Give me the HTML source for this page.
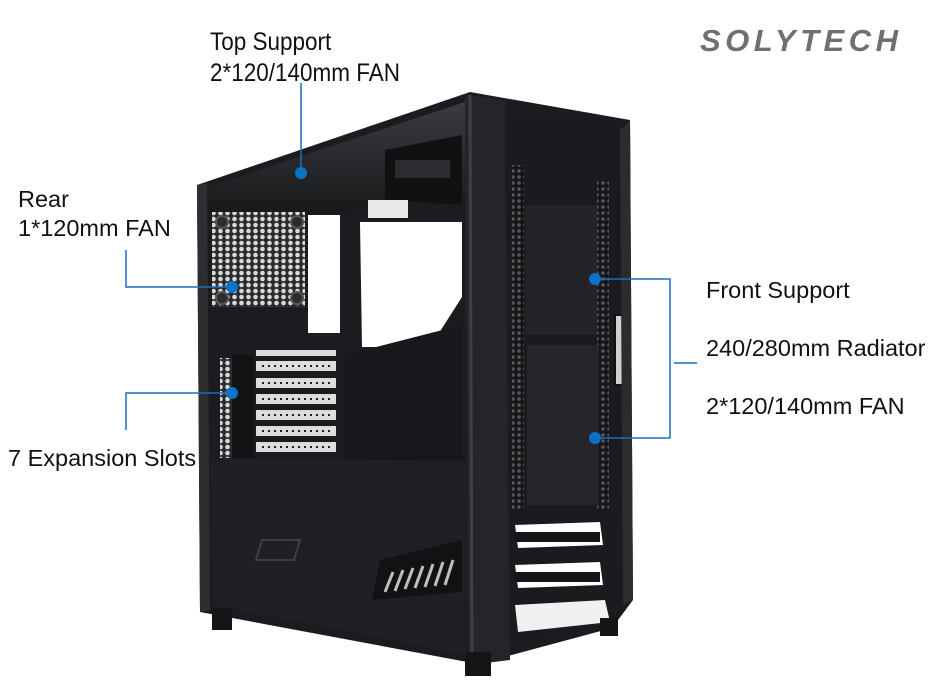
<!DOCTYPE html>
<html><head><meta charset="utf-8"><style>
html,body{margin:0;padding:0;background:#fff;}
svg{display:block}
text{font-family:"Liberation Sans",sans-serif;fill:#111;}
</style></head><body>
<svg width="942" height="698" viewBox="0 0 942 698" xmlns="http://www.w3.org/2000/svg">
<defs>
<pattern id="hex" width="7" height="6" patternUnits="userSpaceOnUse">
<rect width="7" height="6" fill="#2a2b2e"/>
<circle cx="3.5" cy="3" r="2.3" fill="#d8d8d8"/>
</pattern>
<pattern id="hexd" width="6" height="6" patternUnits="userSpaceOnUse">
<rect width="6" height="6" fill="#151618"/>
<circle cx="3" cy="3" r="1.8" fill="#55575c"/>
</pattern>
<linearGradient id="top" x1="0" y1="0" x2="0" y2="1">
<stop offset="0" stop-color="#3a3c40"/><stop offset="1" stop-color="#17181a"/>
</linearGradient>
</defs>

<polygon points="197,185 470,92 630,120 633,600 612,628 478,664 200,612" fill="#1b1c1f"/>
<polygon points="205,188 465,102 465,200 300,215 210,215" fill="url(#top)"/>
<polygon points="385,150 462,135 462,205 385,200" fill="#101113"/>
<rect x="395" y="160" width="55" height="18" fill="#2c2d30"/>
<polygon points="197,185 207,183 210,610 200,612" fill="#2d2e32"/>
<rect x="212" y="212" width="93" height="95" fill="url(#hex)"/>
<circle cx="222" cy="222" r="6" fill="#2a2b2e" stroke="#555" stroke-width="2"/>
<circle cx="297" cy="222" r="6" fill="#2a2b2e" stroke="#555" stroke-width="2"/>
<circle cx="222" cy="298" r="6" fill="#2a2b2e" stroke="#555" stroke-width="2"/>
<circle cx="297" cy="298" r="6" fill="#2a2b2e" stroke="#555" stroke-width="2"/>
<rect x="308" y="215" width="32" height="118" fill="#fff"/>
<polygon points="360,222 462,222 462,297 430,347 362,347" fill="#fff"/>
<rect x="368" y="200" width="40" height="18" fill="#e8e8e8"/>
<rect x="220" y="358" width="12" height="100" fill="url(#hex)"/>
<rect x="232" y="355" width="22" height="105" fill="#121315"/>
<g fill="#dcdcdc">
<rect x="256" y="350" width="80" height="6"/>
<rect x="256" y="361" width="80" height="10"/>
<rect x="256" y="378" width="80" height="10"/>
<rect x="256" y="394" width="80" height="10"/>
<rect x="256" y="410" width="80" height="10"/>
<rect x="256" y="426" width="80" height="10"/>
<rect x="256" y="442" width="80" height="10"/>
</g>
<g stroke="#1b1c1f" stroke-width="2" stroke-dasharray="2 4">
<line x1="262" y1="366" x2="334" y2="366"/><line x1="262" y1="383" x2="334" y2="383"/>
<line x1="262" y1="399" x2="334" y2="399"/><line x1="262" y1="415" x2="334" y2="415"/>
<line x1="262" y1="431" x2="334" y2="431"/><line x1="262" y1="447" x2="334" y2="447"/>
</g>
<polygon points="345,355 462,325 462,460 345,460" fill="#17181b"/>
<polygon points="210,458 466,462 466,655 212,605" fill="#1f2023"/>
<polygon points="262,540 300,540 294,560 256,560" fill="none" stroke="#3c3e42" stroke-width="2"/>
<polygon points="380,560 462,540 462,592 372,600" fill="#111214"/>
<g stroke="#bfbfbf" stroke-width="3">
<line x1="385" y1="592" x2="393" y2="572"/><line x1="395" y1="591" x2="403" y2="570"/>
<line x1="405" y1="589" x2="413" y2="568"/><line x1="415" y1="588" x2="423" y2="566"/>
<line x1="425" y1="587" x2="433" y2="564"/><line x1="435" y1="586" x2="443" y2="562"/>
<line x1="445" y1="585" x2="453" y2="560"/>
</g>
<polygon points="465,95 505,100 510,660 478,664 468,655" fill="#242528"/>
<line x1="470" y1="95" x2="472" y2="660" stroke="#3e4045" stroke-width="3"/>
<polygon points="505,120 630,120 632,600 612,628 510,640" fill="#1a1b1e"/>
<rect x="512" y="165" width="12" height="345" fill="url(#hexd)"/>
<rect x="597" y="180" width="12" height="330" fill="url(#hexd)"/>
<rect x="525" y="205" width="72" height="130" fill="#232428"/>
<rect x="527" y="345" width="72" height="160" fill="#25262a"/>
<rect x="615" y="315" width="8" height="70" fill="#d0d0d0" stroke="#111" stroke-width="2"/>
<polygon points="515,525 600,522 603,545 518,548" fill="#fff"/>
<polygon points="515,565 600,562 603,585 518,588" fill="#fff"/>
<polygon points="515,605 605,600 610,622 518,632" fill="#f0f0f0"/>
<rect x="515" y="532" width="85" height="10" fill="#15161a"/>
<rect x="515" y="572" width="85" height="10" fill="#15161a"/>
<polygon points="620,130 630,120 633,600 623,605" fill="#2b2c30"/>
<rect x="212" y="608" width="20" height="22" fill="#141517"/>
<rect x="465" y="652" width="26" height="24" fill="#141517"/>
<rect x="600" y="618" width="18" height="18" fill="#141517"/>

<g stroke="#1c6fbd" stroke-width="1.5" fill="none">
<line x1="301" y1="83" x2="301" y2="172"/>
<polyline points="126,250 126,287 232,287"/>
<polyline points="126,430 126,393 232,393"/>
<polyline points="595,279 670,279 670,438 595,438"/>
<line x1="674" y1="363" x2="697" y2="363"/>
</g>
<g fill="#0a72c9">
<circle cx="301" cy="173" r="6"/>
<circle cx="232" cy="287" r="6"/>
<circle cx="232" cy="393" r="6"/>
<circle cx="595" cy="279" r="6"/>
<circle cx="595" cy="438" r="6"/>
</g>

<g transform="translate(210 0) scale(0.9 1)" font-size="25">
<text x="0" y="50">Top Support</text>
<text x="0" y="81">2*120/140mm FAN</text>
</g>
<g font-size="23.5">
<text x="18" y="207">Rear</text>
<text x="18" y="236">1*120mm FAN</text>
<text x="8" y="466">7 Expansion Slots</text>
<text x="706" y="298">Front Support</text>
<text x="706" y="356">240/280mm Radiator</text>
<text x="706" y="414">2*120/140mm FAN</text>
</g>
<text x="700" y="51" font-size="31" font-weight="bold" font-style="italic" letter-spacing="4.5" style="fill:#707070">SOLYTECH</text>
</svg>
</body></html>
